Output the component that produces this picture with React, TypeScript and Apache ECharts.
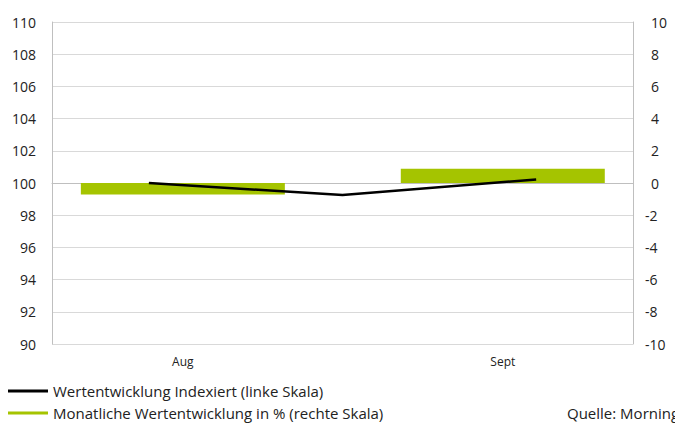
import React, { useEffect, useRef } from "react";
import * as echarts from "echarts";

const barCategories = ["Aug", "Sept"];
const barPositions = [1, 2];
const monthlyReturn = [-0.72, 0.89];
const linePoints = ["Jul", "Aug", "Sept"];
const indexValues = [100, 99.25, 100.22];
const leftTicks = { min: 90, max: 110, interval: 2 };
const rightTicks = { min: -10, max: 10, interval: 2 };
const lineName = "Wertentwicklung Indexiert (linke Skala)";
const barName = "Monatliche Wertentwicklung in % (rechte Skala)";
const sourceText = "Quelle: Morningstar";

const FONT = "'Open Sans', sans-serif";
const TXT = "#222222";
const GREEN = "#a5c400";

export default function App() {
  const ref = useRef<HTMLDivElement>(null);
  useEffect(() => {
    if (!ref.current) return;
    const chart = echarts.init(ref.current, null, { renderer: "svg" });
    const legendBase = {
      orient: "horizontal",
      left: 8,
      padding: 0,
      itemWidth: 40,
      itemHeight: 3,
      itemTextGap: 7,
      icon: "rect",
      textStyle: { fontFamily: FONT, fontSize: 15, color: TXT, lineHeight: 18 },
    };
    chart.setOption({
      animation: false,
      textStyle: { fontFamily: FONT },
      grid: { left: 52, right: 42, top: 22, bottom: 79, containLabel: false },
      legend: [
        { ...legendBase, top: 382, data: [lineName] },
        { ...legendBase, top: 404, data: [barName] },
      ],
      graphic: [
        {
          type: "text",
          left: 567,
          top: 405,
          style: { text: sourceText, font: `15px ${FONT}`, fill: TXT },
        },
      ],
      xAxis: [
        {
          type: "value",
          min: 0.591,
          max: 2.407,
          axisLine: { show: true, lineStyle: { color: "#bfbfbf", width: 1 } },
          axisTick: { show: false },
          splitLine: { show: false },
          axisLabel: {
            customValues: barPositions,
            formatter: (v: number) => barCategories[Math.round(v) - 1] ?? "",
            fontSize: 12,
            color: TXT,
            margin: 11,
            fontFamily: FONT,
          },
        },
        {
          type: "category",
          data: linePoints,
          boundaryGap: true,
          show: false,
        },
      ],
      yAxis: [
        {
          type: "value",
          position: "left",
          ...leftTicks,
          axisLine: { show: true, lineStyle: { color: "#bfbfbf", width: 1 } },
          axisTick: { show: false },
          splitLine: { show: true, lineStyle: { color: "#d9d9d9", width: 1 } },
          axisLabel: { fontSize: 14, color: TXT, margin: 16, fontFamily: FONT },
        },
        {
          type: "value",
          position: "right",
          ...rightTicks,
          axisLine: { show: true, lineStyle: { color: "#bfbfbf", width: 1 } },
          axisTick: { show: false },
          splitLine: { show: false },
          axisLabel: {
            fontSize: 14,
            color: TXT,
            margin: 12,
            fontFamily: FONT,
            formatter: (v: number) => (v < 0 ? String(v) : "{s|}" + v),
            rich: { s: { width: 6 } },
          },
        },
      ],
      series: [
        {
          name: barName,
          type: "bar",
          xAxisIndex: 0,
          yAxisIndex: 1,
          barWidth: 204,
          itemStyle: { color: GREEN },
          data: barPositions.map((p, i) => [p, monthlyReturn[i]]),
          z: 2,
        },
        {
          name: lineName,
          type: "line",
          xAxisIndex: 1,
          yAxisIndex: 0,
          symbol: "none",
          lineStyle: { color: "#000000", width: 2.5 },
          itemStyle: { color: "#000000" },
          data: indexValues,
          z: 3,
        },
      ],
    });
    return () => chart.dispose();
  }, []);
  return <div ref={ref} style={{ width: 675, height: 423, position: "absolute", left: 0, top: 0 }} />;
}
